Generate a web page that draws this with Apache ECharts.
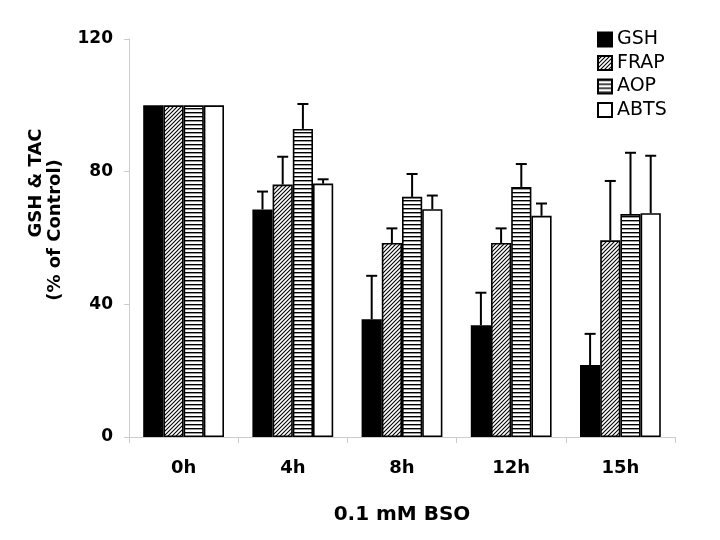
<!DOCTYPE html>
<html>
<head>
<meta charset="utf-8">
<script src="https://cdn.jsdelivr.net/npm/echarts@6/dist/echarts.min.js"></script>
<style>html,body{margin:0;padding:0;background:#fff}#c{width:720px;height:540px}</style>
</head>
<body>
<div id="c"></div>
<script>
var categories = ['0h', '4h', '8h', '12h', '15h'];
var seriesNames = ['GSH', 'FRAP', 'AOP', 'ABTS'];
var gshValues  = [100, 68.6, 35.5, 33.7, 21.7];
var frapValues = [100, 76.1, 58.5, 58.5, 59.3];
var aopValues  = [100, 92.9, 72.4, 75.4, 67.2];
var abtsValues = [100, 76.4, 68.7, 66.7, 67.5];
var gshErrors  = [0, 5.4, 13.1, 9.8, 9.4];
var frapErrors = [0, 8.4, 4.4, 4.4, 17.9];
var aopErrors  = [0, 7.5, 6.9, 6.9, 18.5];
var abtsErrors = [0, 1.3, 4.1, 3.7, 17.3];
var yTicks = [0, 40, 80, 120];

var values = [gshValues, frapValues, aopValues, abtsValues];
var errors = [gshErrors, frapErrors, aopErrors, abtsErrors];

function hatchPattern() {
  var n = 4, c = document.createElement('canvas');
  c.width = n; c.height = n;
  var g = c.getContext('2d');
  g.fillStyle = '#fff'; g.fillRect(0, 0, n, n);
  g.strokeStyle = '#000'; g.lineWidth = 1.1;
  g.beginPath();
  g.moveTo(-1, n + 1); g.lineTo(n + 1, -1);
  g.moveTo(-1, 1); g.lineTo(1, -1);
  g.moveTo(n - 1, n + 1); g.lineTo(n + 1, n - 1);
  g.stroke();
  return c;
}
function stripePattern() {
  var c = document.createElement('canvas');
  c.width = 4; c.height = 4;
  var g = c.getContext('2d');
  g.fillStyle = '#fff'; g.fillRect(0, 0, 4, 4);
  g.fillStyle = '#000'; g.fillRect(0, 0, 4, 1.4);
  return c;
}
var fills = [
  '#000',
  { image: hatchPattern(), repeat: 'repeat' },
  { image: stripePattern(), repeat: 'repeat' },
  '#fff'
];

var GAP = 0.26;
var FONT = '"DejaVu Sans", sans-serif';

var series = [];
seriesNames.forEach(function (name, si) {
  series.push({
    name: name,
    type: 'bar',
    data: values[si],
    barGap: '0%',
    barCategoryGap: (GAP * 100) + '%',
    itemStyle: { color: fills[si], borderColor: '#000', borderWidth: 1.6 },
    emphasis: { disabled: true },
    z: 2
  });
});
seriesNames.forEach(function (name, si) {
  series.push({
    type: 'custom',
    name: name + ' err',
    z: 3,
    silent: true,
    encode: { x: 0, y: 1 },
    data: values[si].map(function (v, i) { return [i, v, errors[si][i]]; }),
    renderItem: function (params, api) {
      var ci = api.value(0), v = api.value(1), e = api.value(2);
      if (!e) return null;
      var base = api.coord([ci, v]);
      var top = api.coord([ci, v + e]);
      var bw = api.size([1, 0])[0];
      var gw = bw * (1 - GAP);
      var w = gw / 4;
      var cx = base[0] - gw / 2 + w * (si + 0.5);
      var st = { stroke: '#000', lineWidth: 2 };
      return {
        type: 'group',
        children: [
          { type: 'line', shape: { x1: cx, y1: base[1], x2: cx, y2: top[1] }, style: st },
          { type: 'line', shape: { x1: cx - 5.5, y1: top[1], x2: cx + 5.5, y2: top[1] }, style: st }
        ]
      };
    }
  });
});

var chart = echarts.init(document.getElementById('c'), null, { renderer: 'canvas' });
chart.setOption({
  backgroundColor: '#fff',
  animation: false,
  grid: { left: 129, right: 45, top: 39, bottom: 103, containLabel: false },
  legend: {
    data: seriesNames,
    orient: 'vertical',
    left: 597,
    top: 30,
    padding: 0,
    itemWidth: 14,
    itemHeight: 14,
    itemGap: 4.5,
    icon: 'rect',
    selectedMode: false,
    textStyle: { fontFamily: FONT, fontSize: 19, color: '#000', lineHeight: 19 }
  },
  xAxis: {
    type: 'category',
    data: categories,
    axisLine: { lineStyle: { color: '#cccccc', width: 1 } },
    axisTick: { show: true, length: 6, lineStyle: { color: '#cccccc' } },
    axisLabel: { margin: 22, fontFamily: FONT, fontSize: 18, fontWeight: 'bold', color: '#000' },
    name: '0.1 mM BSO',
    nameLocation: 'middle',
    nameGap: 68,
    nameTextStyle: { fontFamily: FONT, fontSize: 20, fontWeight: 'bold', color: '#000' }
  },
  yAxis: {
    type: 'value',
    min: yTicks[0],
    max: yTicks[yTicks.length - 1],
    interval: yTicks[1] - yTicks[0],
    splitLine: { show: false },
    axisLine: { show: true, lineStyle: { color: '#cccccc', width: 1 } },
    axisTick: { show: true, length: 5, lineStyle: { color: '#cccccc' } },
    axisLabel: { margin: 16, fontFamily: FONT, fontSize: 17, fontWeight: 'bold', color: '#000' }
  },
  graphic: [
    { type: 'text', x: 36, y: 183, rotation: Math.PI / 2,
      style: { text: 'GSH & TAC', font: 'bold 18px ' + FONT, textAlign: 'center', textVerticalAlign: 'middle', fill: '#000' } },
    { type: 'text', x: 55, y: 230, rotation: Math.PI / 2,
      style: { text: '(% of Control)', font: 'bold 18px ' + FONT, textAlign: 'center', textVerticalAlign: 'middle', fill: '#000' } }
  ],
  series: series
});
</script>
</body>
</html>
